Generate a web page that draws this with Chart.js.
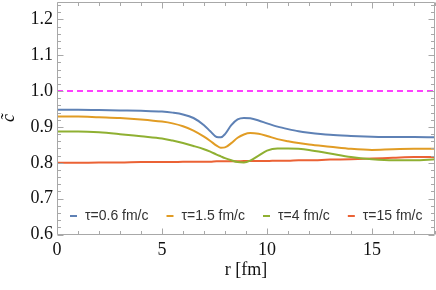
<!DOCTYPE html>
<html><head><meta charset="utf-8">
<script src="https://cdn.jsdelivr.net/npm/chart.js@4/dist/chart.umd.min.js"></script>
<style>html,body{margin:0;padding:0;background:#fff}</style>
</head><body>
<canvas id="c" width="436" height="290" style="display:block;width:436px;height:290px"></canvas>
<script>
const rGrid   = [0,1,2,3,4,5,5.5,6,6.5,7,7.3,7.6,7.8,8,8.3,8.6,8.9,9.2,9.6,10,10.5,11,11.5,12,13,14,15,16,17,18];
const tau06   = [0.948,0.948,0.947,0.946,0.945,0.943,0.940,0.935,0.925,0.905,0.888,0.872,0.871,0.880,0.905,0.921,0.925,0.924,0.918,0.910,0.901,0.894,0.888,0.884,0.878,0.875,0.873,0.872,0.872,0.871];
const tau15   = [0.929,0.929,0.927,0.925,0.921,0.915,0.910,0.902,0.890,0.873,0.861,0.848,0.842,0.843,0.855,0.870,0.879,0.883,0.881,0.875,0.866,0.860,0.855,0.851,0.845,0.839,0.836,0.838,0.839,0.839];
const tau4    = [0.887,0.887,0.885,0.880,0.874,0.868,0.862,0.855,0.847,0.838,0.831,0.823,0.818,0.813,0.807,0.802,0.801,0.806,0.820,0.834,0.840,0.840,0.839,0.836,0.826,0.816,0.810,0.807,0.807,0.810];
const tau150  = [0.800,0.800,0.801,0.801,0.802,0.802,0.802,0.803,0.803,0.803,0.803,0.804,0.804,0.804,0.804,0.804,0.805,0.805,0.805,0.805,0.806,0.806,0.807,0.807,0.809,0.810,0.812,0.814,0.816,0.816];
const refX    = [0,18];
const refY    = [1.0,1.0];
const seriesLabels = ['τ=0.6 fm/c','τ=1.5 fm/c','τ=4 fm/c','τ=15 fm/c'];
const seriesValues = [tau06, tau15, tau4, tau150];
const seriesColors = ['#5E81B5','#E19C24','#8FB032','#EB6235'];
const xTickValues = [0,5,10,15];
const yTickValues = [0.6,0.7,0.8,0.9,1.0,1.1,1.2];

const pts = (xs, ys) => xs.map((x,i)=>({x, y: ys[i]}));

const datasets = seriesValues.map((vals,i)=>({
  label: seriesLabels[i], data: pts(rGrid, vals),
  borderColor: seriesColors[i], borderWidth: 2, pointRadius: 0,
  cubicInterpolationMode: 'monotone', fill: false
}));
datasets.push({label:'ref', data: pts(refX, refY), borderColor:'#FF00FF', borderWidth:1.5, borderDash:[6,4], pointRadius:0, fill:false});

const framePlugin = {
  id: 'frame',
  afterDatasetsDraw(chart){
    const {ctx, chartArea:a, scales:{x,y}} = chart;
    ctx.save();
    ctx.strokeStyle = '#a8a8a8'; ctx.lineWidth = 1;
    const L = Math.round(a.left)+0.5, R = Math.round(a.right)-0.5, T = Math.round(a.top)+0.5, B = Math.round(a.bottom)-0.5;
    ctx.beginPath();
    ctx.moveTo(L,T); ctx.lineTo(R,T); ctx.lineTo(R,B); ctx.lineTo(L,B); ctx.closePath();
    for (let v=0; v<=18; v++){
      const px = Math.round(x.getPixelForValue(v))+0.5;
      const len = v%5===0 ? 6 : 3.5;
      ctx.moveTo(px,B); ctx.lineTo(px,B-len);
      ctx.moveTo(px,T); ctx.lineTo(px,T+len);
    }
    for (let k=30; k<=62; k++){
      const py = Math.round(y.getPixelForValue(k/50))+0.5;
      const len = k%5===0 ? 6 : 3.5;
      ctx.moveTo(L,py); ctx.lineTo(L+len,py);
      ctx.moveTo(R,py); ctx.lineTo(R-len,py);
    }
    ctx.stroke();
    // legend
    ctx.font = '14px "Liberation Sans", Arial, sans-serif';
    ctx.textBaseline = 'middle';
    let lx = 70; const ly = 216;
    seriesLabels.forEach((lab,i)=>{
      ctx.strokeStyle = seriesColors[i]; ctx.lineWidth = 2;
      ctx.beginPath(); ctx.moveTo(lx, ly); ctx.lineTo(lx+7, ly); ctx.stroke();
      ctx.fillStyle = '#333';
      ctx.fillText(lab, lx+15, ly);
      lx += 15 + ctx.measureText(lab).width + 18;
    });
    ctx.restore();
  }
};

new Chart(document.getElementById('c'), {
  type: 'line',
  data: { datasets },
  options: {
    responsive: false, animation: false, devicePixelRatio: 1,
    layout: { padding: { top: 1.5, right: 1, left: 0, bottom: 0 } },
    plugins: { legend: { display: false }, tooltip: { enabled: false } },
    scales: {
      x: {
        type: 'linear', min: 0, max: 18,
        grid: { display: false, drawTicks: false }, border: { display: false },
        afterBuildTicks: s => { s.ticks = xTickValues.map(v=>({value:v})); },
        afterFit: s => { s.height = 55.5; s.paddingLeft = 0; s.paddingRight = 0; },
        ticks: { padding: 5, color: '#111', font: { family: '"Liberation Serif", serif', size: 18 }, maxRotation: 0, callback: v => String(v) },
        title: { display: true, text: 'r [fm]', color: '#111', font: { family: '"Liberation Serif", serif', size: 18 }, padding: { top: 0, bottom: 9 } }
      },
      y: {
        type: 'linear', min: 0.6, max: 1.25,
        grid: { display: false, drawTicks: false }, border: { display: false },
        afterBuildTicks: s => { s.ticks = yTickValues.map(v=>({value:v})); },
        afterFit: s => { s.width = 57; s.paddingTop = 0; s.paddingBottom = 0; },
        ticks: { padding: 4, color: '#111', font: { family: '"Liberation Serif", serif', size: 18 }, callback: v => Number(v).toFixed(1) },
        title: { display: true, text: 'c\u0303', color: '#111', font: { family: '"Liberation Serif", serif', size: 18, style: 'italic', lineHeight: 1 }, padding: 0 }
      }
    }
  },
  plugins: [framePlugin]
});
</script>
</body></html>
